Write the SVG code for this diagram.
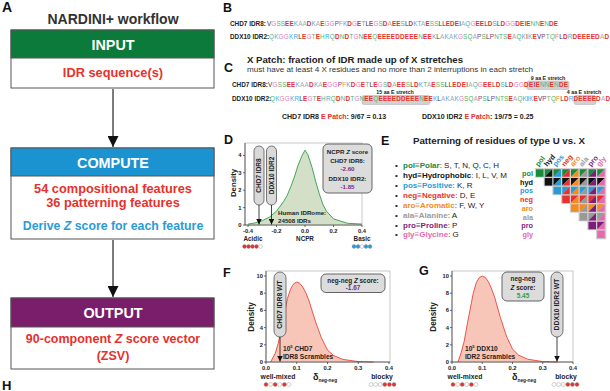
<svg xmlns="http://www.w3.org/2000/svg" width="610" height="391" viewBox="0 0 610 391">
<style>
text{font-family:"Liberation Sans",Arial,sans-serif;fill:#222}
.b{font-weight:bold}
.c{text-anchor:middle}
.r{text-anchor:end}
.lab{font-size:12.5px;font-weight:bold;fill:#111}
.hdr{font-size:14.4px;font-weight:bold;fill:#fff;text-anchor:middle}
.red{fill:#e6312c}
.blu{fill:#2b9bd8}
.sp{fill:#55b06f}.sh{fill:#333}.sk{fill:#4aa8e0}.sn{fill:#e8302c;font-weight:bold}.sf{fill:#f08a24}.sa{fill:#a8a8a8}.sr{fill:#8a3a8c}.sg{fill:#e47bb5}
.cpol{fill:#1a8a3c}.chyd{fill:#111}.cpos{fill:#2a9ad8}.cneg{fill:#e8312f}.caro{fill:#f58a1f}.cala{fill:#9a9a9a}.cpro{fill:#7b1f7a}.cgly{fill:#e46aae}
.box{fill:#fff;stroke:#555;stroke-width:1}
.pill{fill:#d9d9d9;stroke:#555;stroke-width:0.8}
.frame{fill:none;stroke:#bbb;stroke-width:0.8}
.ax{stroke:#444;stroke-width:0.8;fill:none}
.tk{font-size:5.8px;font-weight:bold}
.hl{fill:#c9c9c9;stroke:#aaa;stroke-width:0.6;opacity:0.85}
</style>
<defs>
<marker id="bigArrow" viewBox="0 0 10 10" markerWidth="11" markerHeight="11" refX="10" refY="5" orient="auto" markerUnits="userSpaceOnUse"><path d="M0,0 L10,5 L0,10 z" fill="#111"/></marker>
<marker id="smArrow" viewBox="0 0 10 10" markerWidth="5.5" markerHeight="5.5" refX="10" refY="5" orient="auto" markerUnits="userSpaceOnUse"><path d="M0,0 L10,5 L0,10 z" fill="#111"/></marker>
<path id="ul" d="M0 0h7.5L0 7.5z"/>
<path id="lr" d="M7.5 0v7.5H0z"/>
</defs>

<!-- Panel A -->
<text x="2" y="12" class="lab" style="font-size:14px">A</text>
<text x="113" y="24" class="b c" style="font-size:14px;fill:#333">NARDINI+ workflow</text>

<g id="node-input">
<rect x="11" y="30" width="203" height="58" class="box"/>
<rect x="11" y="30" width="203" height="28" fill="#0b7a3b" stroke="#555"/>
<text x="113" y="49.5" class="hdr">INPUT</text>
<text x="113" y="77" class="b c red" style="font-size:12.8px">IDR sequence(s)</text>
</g>

<g id="node-compute">
<rect x="11" y="148" width="203" height="91" class="box"/>
<rect x="11" y="148" width="203" height="28" fill="#1b93d1" stroke="#555"/>
<text x="113" y="167.5" class="hdr">COMPUTE</text>
<text x="113" y="192.5" class="b c red" style="font-size:12.8px">54 compositional features</text>
<text x="113" y="206.5" class="b c red" style="font-size:12.8px">36 patterning features</text>
<text x="113" y="230" class="b c blu" style="font-size:12.3px">Derive <tspan font-style="italic">Z</tspan> score for each feature</text>
</g>

<g id="node-output">
<rect x="11" y="298" width="203" height="71" class="box"/>
<rect x="11" y="298" width="203" height="29" fill="#7a1e6c" stroke="#555"/>
<text x="113" y="318" class="hdr">OUTPUT</text>
<text x="113" y="343" class="b c red" style="font-size:12.5px">90-component <tspan font-style="italic">Z</tspan> score vector</text>
<text x="113" y="360" class="b c red" style="font-size:12.5px">(ZSV)</text>
</g>

<g id="connectors">
<line x1="113" y1="89" x2="113" y2="147" stroke="#111" stroke-width="1.1" marker-end="url(#bigArrow)"/>
<line x1="113" y1="240" x2="113" y2="297" stroke="#111" stroke-width="1.1" marker-end="url(#bigArrow)"/>
</g>

<text x="2" y="389.5" class="lab" style="font-size:13px">H</text>

<!-- Panel B -->
<text x="223" y="12" class="lab">B</text>
<text x="230" y="26.3" class="b" style="font-size:6.4px">CHD7 IDR8:</text>
<text x="267" y="26.3" style="font-size:6.4px" textLength="291" lengthAdjust="spacing"><tspan class="sh">V</tspan><tspan class="sg">G</tspan><tspan class="sp">SS</tspan><tspan class="sn">EE</tspan><tspan class="sk">K</tspan><tspan class="sa">AA</tspan><tspan class="sn">D</tspan><tspan class="sk">K</tspan><tspan class="sa">A</tspan><tspan class="sn">E</tspan><tspan class="sg">GG</tspan><tspan class="sr">P</tspan><tspan class="sf">F</tspan><tspan class="sk">K</tspan><tspan class="sn">D</tspan><tspan class="sg">G</tspan><tspan class="sn">E</tspan><tspan class="sp">T</tspan><tspan class="sh">L</tspan><tspan class="sn">E</tspan><tspan class="sg">G</tspan><tspan class="sp">S</tspan><tspan class="sn">D</tspan><tspan class="sa">A</tspan><tspan class="sn">EE</tspan><tspan class="sp">S</tspan><tspan class="sh">L</tspan><tspan class="sn">D</tspan><tspan class="sk">K</tspan><tspan class="sp">T</tspan><tspan class="sa">A</tspan><tspan class="sn">E</tspan><tspan class="sp">SS</tspan><tspan class="sh">LL</tspan><tspan class="sn">EDE</tspan><tspan class="sh">I</tspan><tspan class="sa">A</tspan><tspan class="sp">Q</tspan><tspan class="sg">G</tspan><tspan class="sn">EE</tspan><tspan class="sh">L</tspan><tspan class="sn">D</tspan><tspan class="sp">S</tspan><tspan class="sh">L</tspan><tspan class="sn">D</tspan><tspan class="sg">GG</tspan><tspan class="sn">DE</tspan><tspan class="sh">I</tspan><tspan class="sn">E</tspan><tspan class="sp">NN</tspan><tspan class="sn">E</tspan><tspan class="sp">N</tspan><tspan class="sn">DE</tspan></text>
<text x="230" y="39" class="b" style="font-size:6.4px">DDX10 IDR2:</text>
<text x="269" y="39" style="font-size:6.4px" textLength="340" lengthAdjust="spacing"><tspan class="sp">Q</tspan><tspan class="sk">K</tspan><tspan class="sg">GG</tspan><tspan class="sk">KR</tspan><tspan class="sh">L</tspan><tspan class="sn">E</tspan><tspan class="sg">G</tspan><tspan class="sp">T</tspan><tspan class="sn">E</tspan><tspan class="sp">H</tspan><tspan class="sk">R</tspan><tspan class="sp">Q</tspan><tspan class="sn">D</tspan><tspan class="sp">N</tspan><tspan class="sn">D</tspan><tspan class="sp">T</tspan><tspan class="sg">G</tspan><tspan class="sp">N</tspan><tspan class="sn">EE</tspan><tspan class="sp">Q</tspan><tspan class="sn">EEEEDDEEE</tspan><tspan class="sp">N</tspan><tspan class="sn">EE</tspan><tspan class="sk">K</tspan><tspan class="sh">L</tspan><tspan class="sa">A</tspan><tspan class="sk">K</tspan><tspan class="sa">A</tspan><tspan class="sk">K</tspan><tspan class="sg">G</tspan><tspan class="sp">SQ</tspan><tspan class="sa">A</tspan><tspan class="sr">P</tspan><tspan class="sp">S</tspan><tspan class="sh">L</tspan><tspan class="sr">P</tspan><tspan class="sp">NTS</tspan><tspan class="sn">E</tspan><tspan class="sa">A</tspan><tspan class="sp">Q</tspan><tspan class="sk">K</tspan><tspan class="sh">I</tspan><tspan class="sk">K</tspan><tspan class="sn">E</tspan><tspan class="sh">V</tspan><tspan class="sr">P</tspan><tspan class="sp">TQ</tspan><tspan class="sf">F</tspan><tspan class="sh">L</tspan><tspan class="sn">D</tspan><tspan class="sk">R</tspan><tspan class="sn">DEEEED</tspan><tspan class="sa">A</tspan><tspan class="sn">D</tspan></text>

<!-- Panel C -->
<text x="224" y="72" class="lab">C</text>
<text x="247" y="62.5" class="b" style="font-size:9.6px" textLength="216" lengthAdjust="spacingAndGlyphs">X Patch: fraction of IDR made up of X stretches</text>
<text x="247" y="71.5" style="font-size:7.2px;fill:#333" textLength="286" lengthAdjust="spacingAndGlyphs">must have at least 4 X residues and no more than 2 interruptions in each stretch</text>
<rect x="527" y="81" width="42" height="8.5" rx="2" class="hl"/>
<rect x="362" y="95.5" width="68" height="9" rx="2" class="hl"/>
<rect x="574" y="95.5" width="22" height="9" rx="2" class="hl"/>
<text x="548" y="79.8" class="b c" style="font-size:5.3px">9 aa E stretch</text>
<text x="395" y="94.3" class="b c" style="font-size:5.3px">15 aa E stretch</text>
<text x="584" y="94.3" class="b c" style="font-size:5.3px">4 aa E stretch</text>
<text x="232" y="87" class="b" style="font-size:6.4px">CHD7 IDR8:</text>
<text x="268" y="87" style="font-size:6.4px" textLength="300" lengthAdjust="spacing"><tspan class="sh">V</tspan><tspan class="sg">G</tspan><tspan class="sp">SS</tspan><tspan class="sn">EE</tspan><tspan class="sk">K</tspan><tspan class="sa">AA</tspan><tspan class="sn">D</tspan><tspan class="sk">K</tspan><tspan class="sa">A</tspan><tspan class="sn">E</tspan><tspan class="sg">GG</tspan><tspan class="sr">P</tspan><tspan class="sf">F</tspan><tspan class="sk">K</tspan><tspan class="sn">D</tspan><tspan class="sg">G</tspan><tspan class="sn">E</tspan><tspan class="sp">T</tspan><tspan class="sh">L</tspan><tspan class="sn">E</tspan><tspan class="sg">G</tspan><tspan class="sp">S</tspan><tspan class="sn">D</tspan><tspan class="sa">A</tspan><tspan class="sn">EE</tspan><tspan class="sp">S</tspan><tspan class="sh">L</tspan><tspan class="sn">D</tspan><tspan class="sk">K</tspan><tspan class="sp">T</tspan><tspan class="sa">A</tspan><tspan class="sn">E</tspan><tspan class="sp">SS</tspan><tspan class="sh">LL</tspan><tspan class="sn">EDE</tspan><tspan class="sh">I</tspan><tspan class="sa">A</tspan><tspan class="sp">Q</tspan><tspan class="sg">G</tspan><tspan class="sn">EE</tspan><tspan class="sh">L</tspan><tspan class="sn">D</tspan><tspan class="sp">S</tspan><tspan class="sh">L</tspan><tspan class="sn">D</tspan><tspan class="sg">GG</tspan><tspan class="sn">DE</tspan><tspan class="sh">I</tspan><tspan class="sn">E</tspan><tspan class="sp">NN</tspan><tspan class="sn">E</tspan><tspan class="sp">N</tspan><tspan class="sn">DE</tspan></text>
<text x="232" y="101" class="b" style="font-size:6.4px">DDX10 IDR2:</text>
<text x="270" y="101" style="font-size:6.4px" textLength="340" lengthAdjust="spacing"><tspan class="sp">Q</tspan><tspan class="sk">K</tspan><tspan class="sg">GG</tspan><tspan class="sk">KR</tspan><tspan class="sh">L</tspan><tspan class="sn">E</tspan><tspan class="sg">G</tspan><tspan class="sp">T</tspan><tspan class="sn">E</tspan><tspan class="sp">H</tspan><tspan class="sk">R</tspan><tspan class="sp">Q</tspan><tspan class="sn">D</tspan><tspan class="sp">N</tspan><tspan class="sn">D</tspan><tspan class="sp">T</tspan><tspan class="sg">G</tspan><tspan class="sp">N</tspan><tspan class="sn">EE</tspan><tspan class="sp">Q</tspan><tspan class="sn">EEEEDDEEE</tspan><tspan class="sp">N</tspan><tspan class="sn">EE</tspan><tspan class="sk">K</tspan><tspan class="sh">L</tspan><tspan class="sa">A</tspan><tspan class="sk">K</tspan><tspan class="sa">A</tspan><tspan class="sk">K</tspan><tspan class="sg">G</tspan><tspan class="sp">SQ</tspan><tspan class="sa">A</tspan><tspan class="sr">P</tspan><tspan class="sp">S</tspan><tspan class="sh">L</tspan><tspan class="sr">P</tspan><tspan class="sp">NTS</tspan><tspan class="sn">E</tspan><tspan class="sa">A</tspan><tspan class="sp">Q</tspan><tspan class="sk">K</tspan><tspan class="sh">I</tspan><tspan class="sk">K</tspan><tspan class="sn">E</tspan><tspan class="sh">V</tspan><tspan class="sr">P</tspan><tspan class="sp">TQ</tspan><tspan class="sf">F</tspan><tspan class="sh">L</tspan><tspan class="sn">D</tspan><tspan class="sk">R</tspan><tspan class="sn">DEEEED</tspan><tspan class="sa">A</tspan><tspan class="sn">D</tspan></text>
<text x="282" y="119" class="b" style="font-size:7px">CHD7 IDR8 <tspan class="red">E Patch</tspan>: 9/67 = 0.13</text>
<text x="422" y="119" class="b" style="font-size:7px">DDX10 IDR2 <tspan class="red">E Patch</tspan>: 19/75 = 0.25</text>

<!-- Panel D -->
<text x="224" y="144" class="lab">D</text>
<rect x="245" y="143" width="117" height="82" class="frame"/>
<path d="M248,225 L248,224.1 L255.1,222.9 L262.3,220.65 L269.4,217.2 L276.5,211.1 L283.6,201.5 L287.2,195.4 L290.75,186.7 L294.3,177.2 L297.9,165.8 L302.15,155.3 L305,150.2 L307.85,154.6 L312.1,167.6 L315.7,181.5 L319.25,193.7 L322.8,204.1 L326.4,211.1 L333.5,218.9 L347.75,223.3 L362,224.1 L362,225 Z" fill="#d3dfc6"/>
<path d="M248,224.1 L255.1,222.9 L262.3,220.65 L269.4,217.2 L276.5,211.1 L283.6,201.5 L287.2,195.4 L290.75,186.7 L294.3,177.2 L297.9,165.8 L302.15,155.3 L305,150.2 L307.85,154.6 L312.1,167.6 L315.7,181.5 L319.25,193.7 L322.8,204.1 L326.4,211.1 L333.5,218.9 L347.75,223.3 L362,224.1" fill="none" stroke="#2e9e4a" stroke-width="0.9" stroke-linejoin="round"/>
<path d="M245,143 V225 H362 M243,225 H245 M243,207.6 H245 M243,190.2 H245 M243,172.8 H245 M243,155.4 H245 M248,225 V227 M276.5,225 V227 M305,225 V227 M333.5,225 V227 M362,225 V227" class="ax"/>
<text x="241.5" y="227" class="tk r">0</text>
<text x="241.5" y="209.6" class="tk r">1</text>
<text x="241.5" y="192.2" class="tk r">2</text>
<text x="241.5" y="174.8" class="tk r">3</text>
<text x="241.5" y="157.4" class="tk r">4</text>
<text x="248" y="232.5" class="tk c">-0.4</text>
<text x="276.5" y="232.5" class="tk c">-0.2</text>
<text x="305" y="232.5" class="tk c">0.0</text>
<text x="333.5" y="232.5" class="tk c">0.2</text>
<text x="362" y="232.5" class="tk c">0.4</text>
<text transform="translate(235.5,183) rotate(-90)" class="b c" style="font-size:7.8px">Density</text>
<text x="305" y="241" class="b c" style="font-size:6.3px">NCPR</text>
<text x="253" y="241" class="b c" style="font-size:6.3px">Acidic</text>
<text x="362" y="241" class="b c" style="font-size:6.3px">Basic</text>
<g stroke="#888" stroke-width="0.4">
<circle cx="244.5" cy="246.5" r="1.9" fill="#e8312f"/><circle cx="248.5" cy="246.5" r="1.9" fill="#e8312f"/><circle cx="252.5" cy="246.5" r="1.9" fill="#e8312f"/><circle cx="256.5" cy="246.5" r="1.9" fill="#e8312f"/><circle cx="260.5" cy="246.5" r="1.9" fill="#fff"/>
<circle cx="354" cy="246.5" r="1.9" fill="#2a9ad8"/><circle cx="358" cy="246.5" r="1.9" fill="#2a9ad8"/><circle cx="362" cy="246.5" r="1.9" fill="#fff"/><circle cx="366" cy="246.5" r="1.9" fill="#2a9ad8"/><circle cx="370" cy="246.5" r="1.9" fill="#2a9ad8"/>
</g>
<g id="pill-d-chd7">
<rect x="254" y="146" width="10" height="59" rx="5" class="pill"/>
<text transform="translate(261.4,175.5) rotate(-90)" class="b c" style="font-size:6.5px">CHD7 IDR8</text>
</g>
<g id="pill-d-ddx10">
<rect x="266.5" y="146" width="10" height="59" rx="5" class="pill"/>
<text transform="translate(273.9,175.5) rotate(-90)" class="b c" style="font-size:6.5px">DDX10 IDR2</text>
</g>
<line x1="259" y1="205" x2="259" y2="224.5" stroke="#111" stroke-width="0.8" marker-end="url(#smArrow)"/>
<line x1="271.5" y1="205" x2="271.5" y2="224.5" stroke="#111" stroke-width="0.8" marker-end="url(#smArrow)"/>
<text x="278" y="215.2" class="b" style="font-size:6.2px">Human IDRome:</text>
<text x="278" y="222.6" class="b" style="font-size:6.2px">24508 IDRs</text>
<g id="ncpr-box">
<rect x="323" y="144" width="49" height="49" rx="5" fill="#dcdcdc" stroke="#555" stroke-width="0.9"/>
<text x="347.5" y="154" class="b c" style="font-size:6.2px">NCPR <tspan font-style="italic">Z</tspan> score</text>
<text x="347.5" y="163" class="b c" style="font-size:6.2px">CHD7 IDR8:</text>
<text x="347.5" y="171" class="b c" style="font-size:6.2px;fill:#7a2a8a">-2.60</text>
<text x="347.5" y="180.5" class="b c" style="font-size:6.2px">DDX10 IDR2:</text>
<text x="347.5" y="188.5" class="b c" style="font-size:6.2px;fill:#7a2a8a">-1.85</text>
</g>

<!-- Panel E -->
<text x="381" y="145" class="lab">E</text>
<text x="413" y="144" class="b" style="font-size:9.4px" textLength="172" lengthAdjust="spacingAndGlyphs">Patterning of residues of type U vs. X</text>
<g style="font-size:8px">
<text x="395" y="168">•</text><text x="403" y="168"><tspan class="b cpol">pol≡Polar</tspan>: S, T, N, Q, C, H</text>
<text x="395" y="178">•</text><text x="403" y="178"><tspan class="b chyd">hyd≡Hydrophobic</tspan>: I, L, V, M</text>
<text x="395" y="188">•</text><text x="403" y="188"><tspan class="b cpos">pos≡Positive</tspan>: K, R</text>
<text x="395" y="198">•</text><text x="403" y="198"><tspan class="b cneg">neg≡Negative</tspan>: D, E</text>
<text x="395" y="208">•</text><text x="403" y="208"><tspan class="b caro">aro≡Aromatic</tspan>: F, W, Y</text>
<text x="395" y="217.5">•</text><text x="403" y="217.5"><tspan class="b cala">ala≡Alanine</tspan>: A</text>
<text x="395" y="227.5">•</text><text x="403" y="227.5"><tspan class="b cpro">pro≡Proline</tspan>: P</text>
<text x="395" y="237">•</text><text x="403" y="237"><tspan class="b cgly">gly≡Glycine</tspan>: G</text>
</g>
<g id="matrix">
<g class="b" style="font-size:7.3px">
<text x="533" y="175.8" class="r cpol">pol</text>
<text x="533" y="184.5" class="r chyd">hyd</text>
<text x="533" y="193.3" class="r cpos">pos</text>
<text x="533" y="202" class="r cneg">neg</text>
<text x="533" y="210.8" class="r caro">aro</text>
<text x="533" y="219.5" class="r cala">ala</text>
<text x="533" y="228.3" class="r cpro">pro</text>
<text x="533" y="237" class="r cgly">gly</text>
<text transform="translate(538.5,167) rotate(-50)" class="cpol">pol</text>
<text transform="translate(547.25,167) rotate(-50)" class="chyd">hyd</text>
<text transform="translate(556,167) rotate(-50)" class="cpos">pos</text>
<text transform="translate(564.75,167) rotate(-50)" class="cneg">neg</text>
<text transform="translate(573.5,167) rotate(-50)" class="caro">aro</text>
<text transform="translate(582.25,167) rotate(-50)" class="cala">ala</text>
<text transform="translate(591,167) rotate(-50)" class="cpro">pro</text>
<text transform="translate(599.75,167) rotate(-50)" class="cgly">gly</text>
</g>
<polygon points="535.2,168.5 606,168.5 606,239 596.45,239 596.45,229.75 587.7,229.75 587.7,221 578.95,221 578.95,212.25 570.2,212.25 570.2,203.5 561.45,203.5 561.45,194.75 552.7,194.75 552.7,186 543.95,186 543.95,177.25 535.2,177.25" fill="#cfcfcf" stroke="#bbb" stroke-width="0.5"/>
<rect x="536" y="169.3" width="7.5" height="7.5" class="cpol"/>
<use href="#ul" x="544.75" y="169.3" class="cpol"/><use href="#lr" x="544.75" y="169.3" class="chyd"/>
<use href="#ul" x="553.5" y="169.3" class="cpol"/><use href="#lr" x="553.5" y="169.3" class="cpos"/>
<use href="#ul" x="562.25" y="169.3" class="cpol"/><use href="#lr" x="562.25" y="169.3" class="cneg"/>
<use href="#ul" x="571" y="169.3" class="cpol"/><use href="#lr" x="571" y="169.3" class="caro"/>
<use href="#ul" x="579.75" y="169.3" class="cpol"/><use href="#lr" x="579.75" y="169.3" class="cala"/>
<use href="#ul" x="588.5" y="169.3" class="cpol"/><use href="#lr" x="588.5" y="169.3" class="cpro"/>
<use href="#ul" x="597.25" y="169.3" class="cpol"/><use href="#lr" x="597.25" y="169.3" class="cgly"/>
<rect x="544.75" y="178.05" width="7.5" height="7.5" class="chyd"/>
<use href="#ul" x="553.5" y="178.05" class="chyd"/><use href="#lr" x="553.5" y="178.05" class="cpos"/>
<use href="#ul" x="562.25" y="178.05" class="chyd"/><use href="#lr" x="562.25" y="178.05" class="cneg"/>
<use href="#ul" x="571" y="178.05" class="chyd"/><use href="#lr" x="571" y="178.05" class="caro"/>
<use href="#ul" x="579.75" y="178.05" class="chyd"/><use href="#lr" x="579.75" y="178.05" class="cala"/>
<use href="#ul" x="588.5" y="178.05" class="chyd"/><use href="#lr" x="588.5" y="178.05" class="cpro"/>
<use href="#ul" x="597.25" y="178.05" class="chyd"/><use href="#lr" x="597.25" y="178.05" class="cgly"/>
<rect x="553.5" y="186.8" width="7.5" height="7.5" class="cpos"/>
<use href="#ul" x="562.25" y="186.8" class="cpos"/><use href="#lr" x="562.25" y="186.8" class="cneg"/>
<use href="#ul" x="571" y="186.8" class="cpos"/><use href="#lr" x="571" y="186.8" class="caro"/>
<use href="#ul" x="579.75" y="186.8" class="cpos"/><use href="#lr" x="579.75" y="186.8" class="cala"/>
<use href="#ul" x="588.5" y="186.8" class="cpos"/><use href="#lr" x="588.5" y="186.8" class="cpro"/>
<use href="#ul" x="597.25" y="186.8" class="cpos"/><use href="#lr" x="597.25" y="186.8" class="cgly"/>
<rect x="562.25" y="195.55" width="7.5" height="7.5" class="cneg"/>
<use href="#ul" x="571" y="195.55" class="cneg"/><use href="#lr" x="571" y="195.55" class="caro"/>
<use href="#ul" x="579.75" y="195.55" class="cneg"/><use href="#lr" x="579.75" y="195.55" class="cala"/>
<use href="#ul" x="588.5" y="195.55" class="cneg"/><use href="#lr" x="588.5" y="195.55" class="cpro"/>
<use href="#ul" x="597.25" y="195.55" class="cneg"/><use href="#lr" x="597.25" y="195.55" class="cgly"/>
<rect x="571" y="204.3" width="7.5" height="7.5" class="caro"/>
<use href="#ul" x="579.75" y="204.3" class="caro"/><use href="#lr" x="579.75" y="204.3" class="cala"/>
<use href="#ul" x="588.5" y="204.3" class="caro"/><use href="#lr" x="588.5" y="204.3" class="cpro"/>
<use href="#ul" x="597.25" y="204.3" class="caro"/><use href="#lr" x="597.25" y="204.3" class="cgly"/>
<rect x="579.75" y="213.05" width="7.5" height="7.5" class="cala"/>
<use href="#ul" x="588.5" y="213.05" class="cala"/><use href="#lr" x="588.5" y="213.05" class="cpro"/>
<use href="#ul" x="597.25" y="213.05" class="cala"/><use href="#lr" x="597.25" y="213.05" class="cgly"/>
<rect x="588.5" y="221.8" width="7.5" height="7.5" class="cpro"/>
<use href="#ul" x="597.25" y="221.8" class="cpro"/><use href="#lr" x="597.25" y="221.8" class="cgly"/>
<rect x="597.25" y="230.55" width="7.5" height="7.5" class="cgly"/>
</g>

<!-- Panel F -->
<text x="223" y="277" class="lab">F</text>
<rect x="266" y="271" width="124" height="91" class="frame"/>
<path d="M270.6,362 L275.2,353.4 L278.3,343.1 L281.4,327.6 L284.5,312.9 L287.5,298.4 L290.6,288.9 L293.7,283.7 L296.8,282 L299.8,283.3 L302.9,287.2 L306,293.2 L309.1,301 L315.2,320.7 L321.4,337.9 L327.5,350 L333.7,355.6 L342.9,359.4 L358.3,361.6 L373.6,362 Z" fill="#f7c6b8"/>
<path d="M270.6,362 L275.2,353.4 L278.3,343.1 L281.4,327.6 L284.5,312.9 L287.5,298.4 L290.6,288.9 L293.7,283.7 L296.8,282 L299.8,283.3 L302.9,287.2 L306,293.2 L309.1,301 L315.2,320.7 L321.4,337.9 L327.5,350 L333.7,355.6 L342.9,359.4 L358.3,361.6 L373.6,362" fill="none" stroke="#e8443a" stroke-width="0.9" stroke-linejoin="round"/>
<path d="M266,271 V362 H390 M264,362 H266 M264,344.8 H266 M264,327.6 H266 M264,310.4 H266 M264,293.2 H266 M264,276 H266 M266,362 V364 M296.75,362 V364 M327.5,362 V364 M358.25,362 V364 M389,362 V364" class="ax"/>
<text x="263" y="364" class="tk r">0</text>
<text x="263" y="346.8" class="tk r">2</text>
<text x="263" y="329.6" class="tk r">4</text>
<text x="263" y="312.4" class="tk r">6</text>
<text x="263" y="295.2" class="tk r">8</text>
<text x="263" y="278" class="tk r">10</text>
<text x="266" y="370" class="tk c">0.0</text>
<text x="296.75" y="370" class="tk c">0.1</text>
<text x="327.5" y="370" class="tk c">0.2</text>
<text x="358.25" y="370" class="tk c">0.3</text>
<text x="389" y="370" class="tk c">0.4</text>
<text transform="translate(254,317) rotate(-90)" class="b c" style="font-size:8.2px">Density</text>
<g id="pill-f">
<rect x="274" y="272" width="12" height="65" rx="6" class="pill"/>
<text transform="translate(282.4,304.5) rotate(-90)" class="b c" style="font-size:6.8px">CHD7 IDR8 WT</text>
</g>
<line x1="280" y1="337" x2="280" y2="361.5" stroke="#111" stroke-width="0.8" marker-end="url(#smArrow)"/>
<text x="283" y="350.5" class="b" style="font-size:6.6px">10<tspan dy="-2.2" style="font-size:4.2px">5</tspan><tspan dy="2.2"> CHD7</tspan></text>
<text x="283" y="358.5" class="b" style="font-size:6.6px">IDR8 Scrambles</text>
<g id="zbox-f">
<rect x="321" y="274" width="64" height="18.5" rx="5" fill="#dcdcdc" stroke="#555" stroke-width="0.9"/>
<text x="353" y="282.5" class="b c" style="font-size:6.4px">neg-neg <tspan font-style="italic">Z</tspan> score:</text>
<text x="353" y="290" class="b c" style="font-size:6.4px;fill:#7a2a8a">-1.67</text>
</g>
<text x="278" y="378.5" class="b c" style="font-size:6.8px">well-mixed</text>
<text x="313" y="379.5" class="b" style="font-size:9px">δ<tspan dy="2.5" style="font-size:4.8px">neg-neg</tspan></text>
<text x="382" y="378.5" class="b c" style="font-size:6.8px">blocky</text>
<g stroke="#888" stroke-width="0.4">
<circle cx="266" cy="384.5" r="2" fill="#e8312f"/><circle cx="270.6" cy="384.5" r="2" fill="#fff"/><circle cx="275.2" cy="384.5" r="2" fill="#e8312f"/><circle cx="279.8" cy="384.5" r="2" fill="#fff"/><circle cx="284.4" cy="384.5" r="2" fill="#e8312f"/><circle cx="289" cy="384.5" r="2" fill="#fff"/>
<circle cx="371" cy="384.5" r="2" fill="#fff"/><circle cx="375.6" cy="384.5" r="2" fill="#fff"/><circle cx="380.2" cy="384.5" r="2" fill="#fff"/><circle cx="384.8" cy="384.5" r="2" fill="#e8312f"/><circle cx="389.4" cy="384.5" r="2" fill="#e8312f"/><circle cx="394" cy="384.5" r="2" fill="#e8312f"/>
</g>

<!-- Panel G -->
<text x="419" y="275" class="lab">G</text>
<rect x="452" y="271" width="121" height="91" class="frame"/>
<path d="M458,362 L461.1,352.8 L464.1,341.7 L467.1,325 L470.2,309.1 L473.2,293.5 L476.2,282.9 L479.2,277.6 L482.25,276 L485.3,277.4 L488.3,281.5 L491.3,288 L494.35,296.3 L500.4,317.6 L506.45,336.1 L512.5,349.1 L518.55,355.1 L527.6,359.2 L542.75,361.6 L557.9,362 Z" fill="#f7c6b8"/>
<path d="M458,362 L461.1,352.8 L464.1,341.7 L467.1,325 L470.2,309.1 L473.2,293.5 L476.2,282.9 L479.2,277.6 L482.25,276 L485.3,277.4 L488.3,281.5 L491.3,288 L494.35,296.3 L500.4,317.6 L506.45,336.1 L512.5,349.1 L518.55,355.1 L527.6,359.2 L542.75,361.6 L557.9,362" fill="none" stroke="#e8443a" stroke-width="0.9" stroke-linejoin="round"/>
<path d="M452,271 V362 H573 M450,362 H452 M450,344.8 H452 M450,327.6 H452 M450,310.4 H452 M450,293.2 H452 M450,276 H452 M452,362 V364 M482.25,362 V364 M512.5,362 V364 M542.75,362 V364 M573,362 V364" class="ax"/>
<text x="449" y="364" class="tk r">0</text>
<text x="449" y="346.8" class="tk r">2</text>
<text x="449" y="329.6" class="tk r">4</text>
<text x="449" y="312.4" class="tk r">6</text>
<text x="449" y="295.2" class="tk r">8</text>
<text x="449" y="278" class="tk r">10</text>
<text x="452" y="370" class="tk c">0.0</text>
<text x="482.25" y="370" class="tk c">0.1</text>
<text x="512.5" y="370" class="tk c">0.2</text>
<text x="542.75" y="370" class="tk c">0.3</text>
<text x="573" y="370" class="tk c">0.4</text>
<text transform="translate(436,317) rotate(-90)" class="b c" style="font-size:8.2px">Density</text>
<g id="pill-g">
<rect x="551" y="272" width="12" height="65" rx="6" class="pill"/>
<text transform="translate(559.4,304.5) rotate(-90)" class="b c" style="font-size:6.8px">DDX10 IDR2 WT</text>
</g>
<line x1="557" y1="337" x2="557" y2="361.5" stroke="#111" stroke-width="0.8" marker-end="url(#smArrow)"/>
<text x="465" y="350.5" class="b" style="font-size:6.6px">10<tspan dy="-2.2" style="font-size:4.2px">5</tspan><tspan dy="2.2"> DDX10</tspan></text>
<text x="465" y="358.5" class="b" style="font-size:6.6px">IDR2 Scrambles</text>
<g id="zbox-g">
<rect x="502" y="272" width="42" height="29" rx="5" fill="#dcdcdc" stroke="#555" stroke-width="0.9"/>
<text x="523" y="281" class="b c" style="font-size:6.4px">neg-neg</text>
<text x="523" y="289.5" class="b c" style="font-size:6.4px"><tspan font-style="italic">Z</tspan> score:</text>
<text x="523" y="298" class="b c" style="font-size:6.4px;fill:#2e9e4a">5.45</text>
</g>
<text x="465" y="378.5" class="b c" style="font-size:6.8px">well-mixed</text>
<text x="512" y="379.5" class="b" style="font-size:9px">δ<tspan dy="2.5" style="font-size:4.8px">neg-neg</tspan></text>
<text x="566" y="378.5" class="b c" style="font-size:6.8px">blocky</text>
<g stroke="#888" stroke-width="0.4">
<circle cx="453" cy="384.5" r="2" fill="#e8312f"/><circle cx="457.6" cy="384.5" r="2" fill="#fff"/><circle cx="462.2" cy="384.5" r="2" fill="#e8312f"/><circle cx="466.8" cy="384.5" r="2" fill="#fff"/><circle cx="471.4" cy="384.5" r="2" fill="#e8312f"/><circle cx="476" cy="384.5" r="2" fill="#fff"/>
<circle cx="554" cy="384.5" r="2" fill="#fff"/><circle cx="558.6" cy="384.5" r="2" fill="#fff"/><circle cx="563.2" cy="384.5" r="2" fill="#fff"/><circle cx="567.8" cy="384.5" r="2" fill="#e8312f"/><circle cx="572.4" cy="384.5" r="2" fill="#e8312f"/><circle cx="577" cy="384.5" r="2" fill="#e8312f"/>
</g>
</svg>
